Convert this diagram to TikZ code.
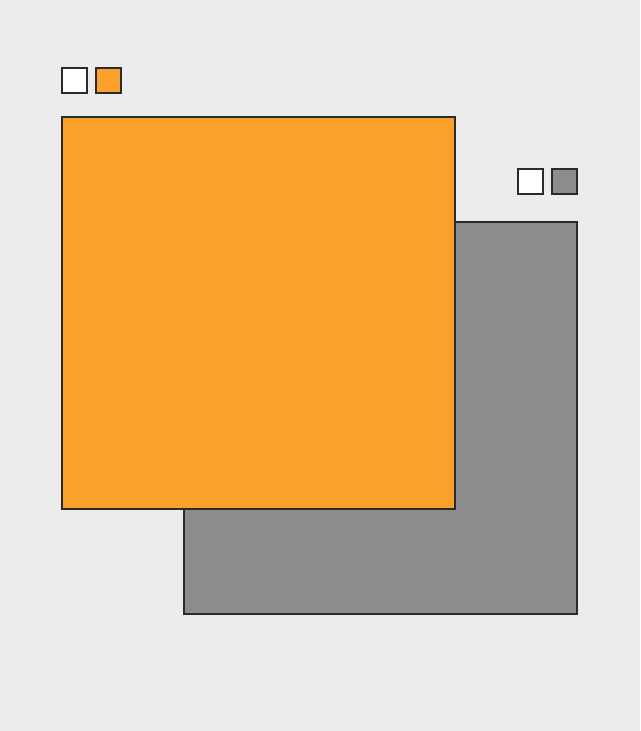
\documentclass[tikz,border=0pt]{standalone}
\definecolor{bg}{HTML}{ECECEC}
\definecolor{orangefill}{HTML}{FBA12B}
\definecolor{grayfill}{HTML}{8C8C8C}
\definecolor{edge}{HTML}{2A2A2A}
\tikzset{
  box/.style={draw=edge, line width=1.1pt},
}
\begin{document}
\begin{tikzpicture}[x=0.75pt, y=-0.75pt]
\fill[bg] (0,0) rectangle (640,731);
\useasboundingbox (0,0) rectangle (640,731);
% gray square (behind)
\draw[box, fill=grayfill] (184,222) rectangle (577,614);
% orange square (front)
\draw[box, fill=orangefill] (62,117) rectangle (455,509);
% legend squares top-left
\draw[box, fill=white] (62,68) rectangle (87,93);
\draw[box, fill=orangefill] (96,68) rectangle (121,93);
% legend squares right
\draw[box, fill=white] (518,169) rectangle (543,194);
\draw[box, fill=grayfill] (552,169) rectangle (577,194);
\end{tikzpicture}
\end{document}
